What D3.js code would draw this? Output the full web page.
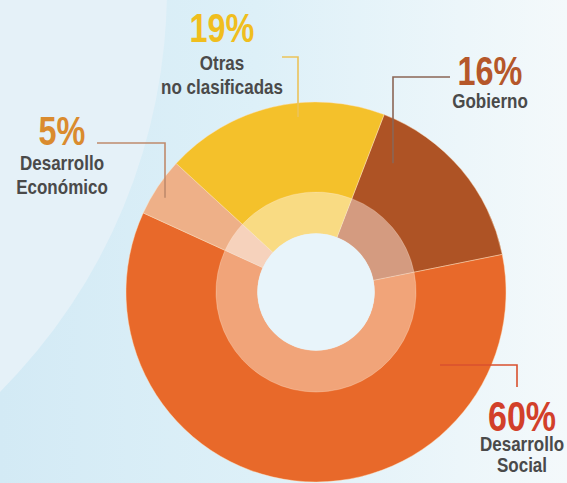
<!DOCTYPE html>
<html><head><meta charset="utf-8">
<script src="https://cdn.jsdelivr.net/npm/d3@7"></script>
<style>
html,body{margin:0;padding:0;background:#e6f2f9;}
svg{display:block;}
</style></head>
<body>
<svg id="chart" width="567" height="483"></svg>
<script>
// ---- data ----
const categories = ["Gobierno", "Desarrollo Social", "Desarrollo Económico", "Otras no clasificadas"];
const values = [16, 60, 5, 19];
const percentLabels = ["16%", "60%", "5%", "19%"];
const nameLines = [["Gobierno"], ["Desarrollo", "Social"], ["Desarrollo", "Económico"], ["Otras", "no clasificadas"]];

// ---- styles ----
const sliceColors = ["#AE5325", "#E8692A", "#EEB088", "#F4C12B"];
const innerColors = ["#D49B80", "#F1A479", "#F6D2BC", "#F9DB83"];
const pctColors = ["#B5572A", "#D2402A", "#DA8B2E", "#F0BE1E"];
const lineColors = ["#8B6656", "#D9502F", "#BF8A6C", "#EBC35A"];

// label layout
const layout = [
  {x: 490, y: 85, ny: [108], line: [[450, 77], [393, 77]], endR: 150},
  {x: 522, y: 431, ny: [451, 472], line: [[440, 365], [517, 365]], endR: null},
  {x: 62, y: 145, ny: [170, 194], line: [[97, 143], [165, 143]], endR: 178},
  {x: 222, y: 42, ny: [70, 94], line: [[282, 57], [298, 57]], endR: 176}
];

const W = 567, H = 483;
const cx = 316, cy = 292;
const R = 190, Rmid = 100, Rhole = 58.5;
const startDeg = 21;
const squeeze = 0.81;

const svg = d3.select("#chart");
const defs = svg.append("defs");
const grad = defs.append("linearGradient").attr("id", "bg").attr("x1", 0).attr("x2", 1).attr("y1", 0).attr("y2", 0);
grad.append("stop").attr("offset", 0).attr("stop-color", "#d3eaf5");
grad.append("stop").attr("offset", 0.45).attr("stop-color", "#ddf0f8");
grad.append("stop").attr("offset", 1).attr("stop-color", "#f4f9fb");

svg.append("rect").attr("width", W).attr("height", H).attr("fill", "url(#bg)");
svg.append("circle").attr("cx", -405).attr("cy", -12).attr("r", 572).attr("fill", "#e5f1f8");

const pie = d3.pie().sort(null).value(d => d)
  .startAngle(startDeg * Math.PI / 180)
  .endAngle((startDeg + 360) * Math.PI / 180);
const arcs = pie(values);

const g = svg.append("g").attr("transform", `translate(${cx},${cy})`);
const outerArc = d3.arc().innerRadius(Rmid - 1).outerRadius(R);
const innerArc = d3.arc().innerRadius(Rhole).outerRadius(Rmid);

g.selectAll("path.outer").data(arcs).join("path")
  .attr("class", "outer")
  .attr("d", outerArc)
  .attr("fill", (d, i) => sliceColors[i])
  .attr("stroke", "rgba(255,225,190,0.55)").attr("stroke-width", 0.8);
g.selectAll("path.inner").data(arcs).join("path")
  .attr("class", "inner")
  .attr("d", innerArc)
  .attr("fill", (d, i) => innerColors[i])
  .attr("stroke", "rgba(255,235,215,0.5)").attr("stroke-width", 0.6);
g.append("circle").attr("r", Rhole).attr("fill", "#e8f4fa");

// leaders
layout.forEach((L, i) => {
  const pts = L.line.slice();
  const last = pts[pts.length - 1];
  let endY;
  if (L.endR) {
    const dx = last[0] - cx;
    endY = cy - Math.sqrt(Math.max(0, L.endR * L.endR - dx * dx));
  } else {
    endY = 387;
  }
  pts.push([last[0], endY]);
  svg.append("path")
    .attr("d", d3.line()(pts))
    .attr("fill", "none")
    .attr("stroke", lineColors[i])
    .attr("stroke-width", 1.6);
});

// labels (condensed by horizontal squeeze)
const fontFam = "'Liberation Sans','Arimo',Arial,sans-serif";
function label(x, y, size, color, str) {
  svg.append("g")
    .attr("transform", `translate(${x},${y}) scale(${squeeze},1)`)
    .append("text")
    .attr("text-anchor", "middle")
    .attr("font-family", fontFam)
    .attr("font-weight", "bold")
    .attr("font-size", size)
    .attr("fill", color)
    .text(str);
}
layout.forEach((L, i) => {
  label(L.x, L.y, i === 1 ? 42 : 40, pctColors[i], percentLabels[i]);
  nameLines[i].forEach((t, j) => label(L.x, L.ny[j], 21, "#4a4a4a", t));
});
</script>
</body></html>
